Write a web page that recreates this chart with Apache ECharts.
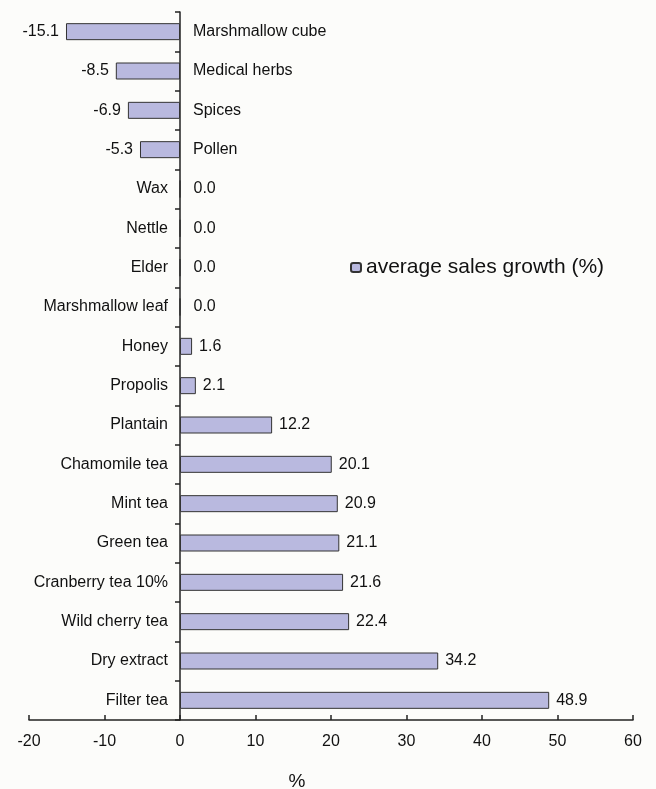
<!DOCTYPE html>
<html>
<head>
<meta charset="utf-8">
<script src="https://cdn.jsdelivr.net/npm/echarts@6/dist/echarts.min.js"></script>
<style>
html,body{margin:0;padding:0;background:#fcfcfa;}
#c{width:656px;height:789px;}
</style>
</head>
<body>
<div id="c"></div>
<script>
var categories = ["Marshmallow cube","Medical herbs","Spices","Pollen","Wax","Nettle","Elder","Marshmallow leaf","Honey","Propolis","Plantain","Chamomile tea","Mint tea","Green tea","Cranberry tea 10%","Wild cherry tea","Dry extract","Filter tea"];
var values = [-15.1,-8.5,-6.9,-5.3,0.0,0.0,0.0,0.0,1.6,2.1,12.2,20.1,20.9,21.1,21.6,22.4,34.2,48.9];
var xTicks = [-20,-10,0,10,20,30,40,50,60];
var seriesName = "average sales growth (%)";
var axisName = "%";

var FONT = "'Liberation Sans', Arial, sans-serif";
var mainData = values.map(function(v){
  var pos, dist;
  if (v < 0) { pos = 'left'; dist = 7; }
  else if (v === 0) { pos = 'right'; dist = 13; }
  else { pos = 'right'; dist = 7; }
  return { value: v, label: { position: pos, distance: dist } };
});
var catData = values.map(function(v, i){
  return { value: v, label: { position: v < 0 ? 'right' : 'left', distance: v < 0 ? 13 : 12, formatter: categories[i] } };
});

var chart = echarts.init(document.getElementById('c'));
chart.setOption({
  backgroundColor: '#fcfcfa',
  animation: false,
  textStyle: { fontFamily: FONT },
  legend: {
    left: 345, top: 252,
    itemWidth: 10, itemHeight: 9, itemGap: 10,
    textStyle: { fontSize: 21, color: '#111', fontFamily: FONT },
    data: [seriesName]
  },
  grid: { left: 29, right: 23, top: 12, bottom: 69, containLabel: false, outerBoundsMode: 'none' },
  xAxis: {
    type: 'value', min: xTicks[0], max: xTicks[xTicks.length-1], interval: 10,
    axisLine: { show: true, lineStyle: { color: '#222', width: 1.5 } },
    axisTick: { show: true, inside: true, length: 5, lineStyle: { color: '#222', width: 1.5 } },
    axisLabel: { color: '#111', fontSize: 16, margin: 14, fontFamily: FONT },
    splitLine: { show: false },
    name: axisName, nameLocation: 'middle', nameGap: 52,
    nameTextStyle: { fontSize: 19, color: '#111', padding: [0, 68, 0, 0], fontFamily: FONT }
  },
  yAxis: {
    type: 'category', data: categories, inverse: true,
    axisLine: { show: true, onZero: true, lineStyle: { color: '#222', width: 1.5 } },
    axisTick: { show: true, length: 5, interval: 0, lineStyle: { color: '#222', width: 1.5 } },
    axisLabel: { show: false }
  },
  series: [
    {
      name: seriesName, type: 'bar', data: mainData, barWidth: 17,
      itemStyle: { color: '#b9b9df', borderColor: '#333', borderWidth: 1 },
      label: { show: true, color: '#111', fontSize: 16, fontFamily: FONT,
        formatter: function(p){ return p.value.toFixed(1); } },
      z: 3
    },
    {
      name: 'cats', type: 'bar', data: catData, barWidth: 17, barGap: '-100%',
      itemStyle: { color: 'rgba(0,0,0,0)', borderWidth: 0 },
      label: { show: true, color: '#111', fontSize: 16, fontFamily: FONT },
      silent: true, z: 2
    }
  ]
});
</script>
</body>
</html>
